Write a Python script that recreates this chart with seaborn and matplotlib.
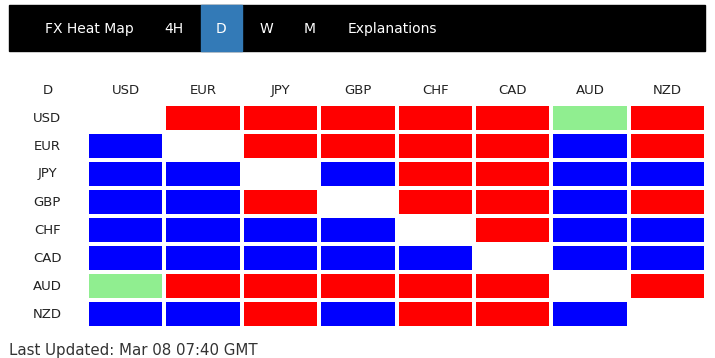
import numpy as np
import pandas as pd
import matplotlib
matplotlib.use("Agg")
import matplotlib.pyplot as plt
from matplotlib.colors import ListedColormap
from matplotlib.patches import Rectangle
import seaborn as sns

# currency pairs and strength codes: -1 blue, 0 blank (same currency), 1 red, 2 green
currencies = ["USD", "EUR", "JPY", "GBP", "CHF", "CAD", "AUD", "NZD"]
strength = [
    [0, 1, 1, 1, 1, 1, 2, 1],
    [-1, 0, 1, 1, 1, 1, -1, 1],
    [-1, -1, 0, -1, 1, 1, -1, -1],
    [-1, -1, 1, 0, 1, 1, -1, 1],
    [-1, -1, -1, -1, 0, 1, -1, -1],
    [-1, -1, -1, -1, -1, 0, -1, -1],
    [2, 1, 1, 1, 1, 1, 0, 1],
    [-1, -1, 1, -1, 1, 1, -1, 0],
]
menu_items = ["FX Heat Map", "4H", "D", "W", "M", "Explanations"]
menu_x = [89, 174, 221, 266, 310, 392]
active_item = "D"
last_updated = "Last Updated: Mar 08 07:40 GMT"

W, H = 715, 358


def px(x, y):
    """Convert pixel coords (top-left origin) to figure fraction."""
    return x / W, 1 - y / H


def draw_menu(fig):
    x0, y0 = px(9, 51)
    fig.patches.append(Rectangle((x0, y0), (705 - 9) / W, 46 / H,
                                 transform=fig.transFigure, color="black", zorder=0))
    ax0, ay0 = px(201, 51)
    fig.patches.append(Rectangle((ax0, ay0), 41 / W, 46 / H,
                                 transform=fig.transFigure, color="#337ab7", zorder=1))
    for label, x in zip(menu_items, menu_x):
        fx, fy = px(x, 29)
        fig.text(fx, fy, label, color="white", fontsize=10,
                 ha="center", va="center", zorder=2)


def draw_heatmap(fig):
    left, top = px(87, 104)
    right, bottom = px(706, 328)
    ax = fig.add_axes([left, bottom, right - left, top - bottom])
    df = pd.DataFrame(strength, index=currencies, columns=currencies)
    cmap = ListedColormap(["#0000ff", "#ffffff", "#ff0000", "#90ee90"])
    sns.heatmap(df, ax=ax, cmap=cmap, vmin=-1.5, vmax=2.5, cbar=False,
                linewidths=1.7, linecolor="white", square=False)
    ax.xaxis.tick_top()
    ax.tick_params(length=0, labelsize=9.5, labelcolor="#222222")
    ax.tick_params(axis="y", pad=28.5)
    ax.tick_params(axis="x", pad=10)
    ax.set_xlabel("")
    ax.set_ylabel("")
    plt.setp(ax.get_yticklabels(), rotation=0, ha="center", va="center")
    plt.setp(ax.get_xticklabels(), rotation=0, va="center")
    fx, fy = px(48, 90)
    fig.text(fx, fy, active_item, fontsize=9.5, color="#222222", ha="center", va="center")


def main():
    sns.set_theme(style="white")
    plt.rcParams["font.family"] = ["Verdana", "DejaVu Sans"]
    fig = plt.figure(figsize=(W / 100, H / 100), dpi=100)
    fig.patch.set_facecolor("white")
    draw_menu(fig)
    draw_heatmap(fig)
    fx, fy = px(9, 351)
    fig.text(fx, fy, last_updated, fontsize=10.8, color="#333333", ha="left", va="center")
    fig.savefig("out.png", dpi=100, facecolor="white")


if __name__ == "__main__":
    main()
